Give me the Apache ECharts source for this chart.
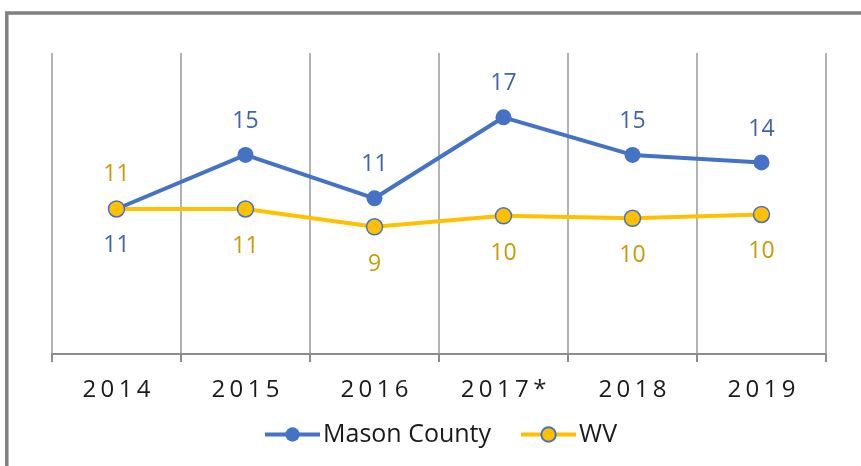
<!DOCTYPE html>
<html>
<head>
<meta charset="utf-8">
<script src="https://cdn.jsdelivr.net/npm/echarts@6/dist/echarts.min.js"></script>
<style>html,body{margin:0;padding:0;background:#fff;}#c{width:861px;height:466px;}</style>
</head>
<body>
<div id="c"></div>
<script>
const categories = ['2014', '2015', '2016', '2017*', '2018', '2019'];
const masonCounty = [10.6, 14.55, 11.38, 17.3, 14.55, 14.0];
const wv = [10.6, 10.6, 9.3, 10.1, 9.92, 10.2];
const masonLabelPos = ['bottom', 'top', 'top', 'top', 'top', 'top'];
const wvLabelPos = ['top', 'bottom', 'bottom', 'bottom', 'bottom', 'bottom'];

const chart = echarts.init(document.getElementById('c'), null, {renderer: 'canvas'});
const FONT = '"Open Sans", Lato, sans-serif';

function mkData(vals, pos) {
  return vals.map((v, i) => ({
    value: v,
    label: {position: pos[i], distance: pos[i] === 'bottom' ? 17 : 14}
  }));
}
// spaced axis label: each character as its own rich token with side padding
function spaced(s) {
  return s.split('').map(ch => '{d|' + ch + '}').join('');
}

chart.setOption({
  animation: false,
  backgroundColor: '#ffffff',
  graphic: [{
    type: 'rect',
    shape: {x: 6.8, y: 13, width: 900, height: 500},
    style: {fill: 'none', stroke: '#808080', lineWidth: 3.5},
    silent: true, z: -1
  }],
  grid: {left: 52, right: 35, top: 53, bottom: 112, containLabel: false},
  legend: {
    bottom: 14,
    left: 258,
    itemWidth: 55,
    itemHeight: 18,
    itemGap: 28,
    lineStyle: {width: 4},
    textStyle: {fontFamily: FONT, fontSize: 25, color: '#1a1a1a', padding: [0, 0, 0, -2]},
    data: ['Mason County', 'WV']
  },
  xAxis: {
    type: 'category',
    data: categories,
    boundaryGap: true,
    axisLine: {show: true, lineStyle: {color: '#8c8c8c', width: 2}},
    axisTick: {show: true, interval: 0, length: 8, lineStyle: {color: '#8c8c8c', width: 2}},
    splitLine: {show: true, interval: 0, lineStyle: {color: '#999999', width: 1.5}},
    axisLabel: {
      interval: 0,
      hideOverlap: false,
      margin: 24,
      formatter: v => spaced(v),
      rich: {d: {fontFamily: FONT, fontSize: 24, color: '#1a1a1a', padding: [0, 2.2, 0, 2.2]}}
    }
  },
  yAxis: {
    type: 'value',
    min: 0,
    max: 22,
    show: false,
    splitLine: {show: false}
  },
  series: [
    {
      name: 'Mason County',
      type: 'line',
      data: mkData(masonCounty, masonLabelPos),
      symbol: 'circle',
      symbolSize: 16,
      lineStyle: {color: '#4472C4', width: 4},
      itemStyle: {color: '#4472C4'},
      label: {
        show: true, fontFamily: FONT, fontSize: 23, color: '#3F64AA',
        formatter: p => Math.round(p.value)
      },
      z: 3
    },
    {
      name: 'WV',
      type: 'line',
      data: mkData(wv, wvLabelPos),
      symbol: 'circle',
      symbolSize: 16,
      lineStyle: {color: '#FFC000', width: 4},
      itemStyle: {color: '#FFC000', borderColor: '#4472C4', borderWidth: 1.5},
      label: {
        show: true, fontFamily: FONT, fontSize: 23, color: '#C99A06',
        formatter: p => Math.round(p.value)
      },
      z: 4
    }
  ]
});
</script>
</body>
</html>
